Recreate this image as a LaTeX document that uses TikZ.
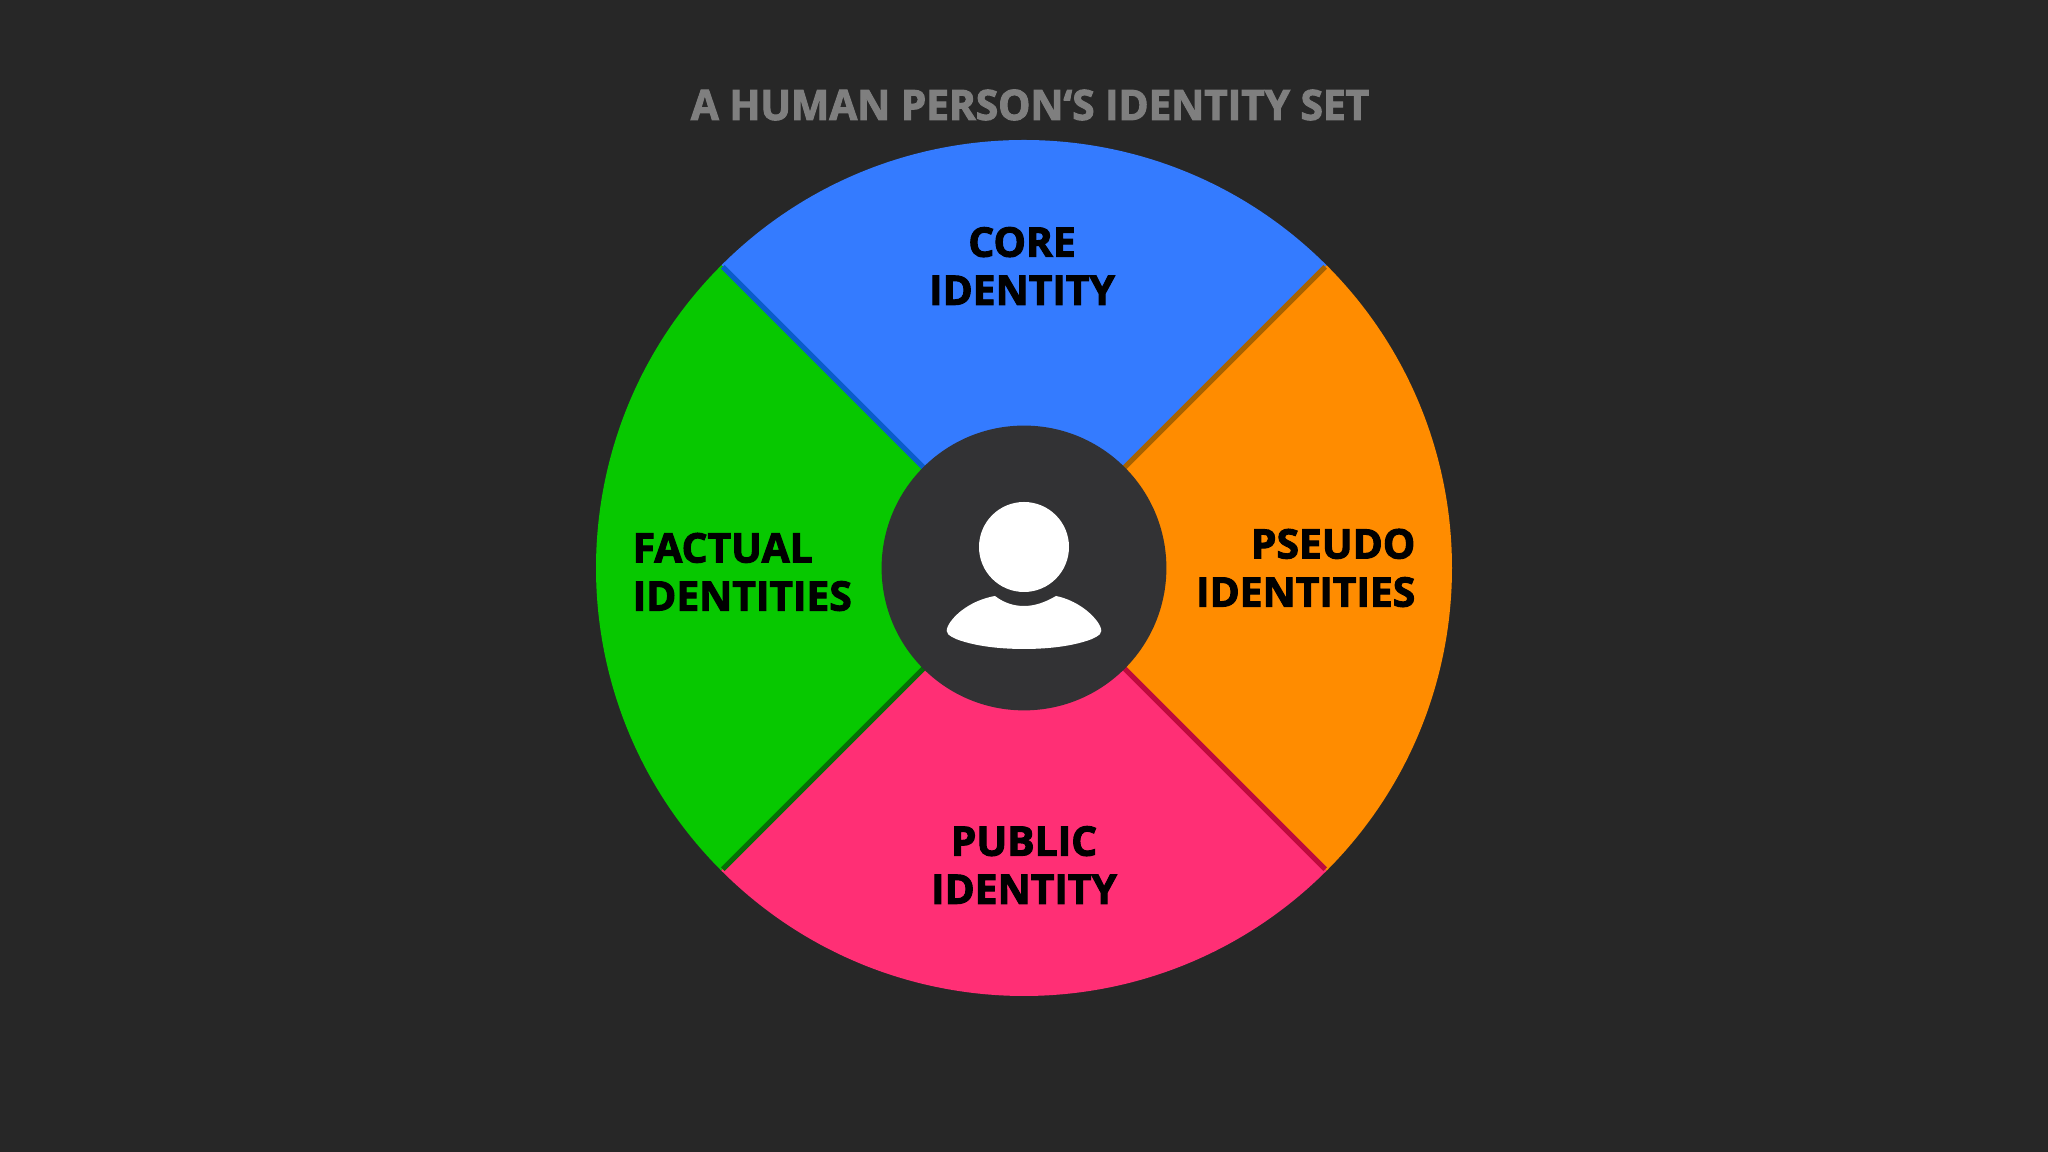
\documentclass[tikz,border=0pt]{standalone}
\usepackage{fontspec}
\setmainfont{Open Sans}[BoldFeatures={FakeBold=2.4}]
\newfontfamily\titlefont{Open Sans}[BoldFeatures={FakeBold=2.4,FakeStretch=0.97}]
\usepackage{xcolor}
\definecolor{bgdark}{HTML}{272727}
\definecolor{hubdark}{HTML}{323234}
\definecolor{titlegray}{HTML}{7F7F7F}
\definecolor{coreblue}{HTML}{347BFF}
\definecolor{coreedge}{HTML}{0B5CCB}
\definecolor{pseudoorange}{HTML}{FF8C00}
\definecolor{pseudoedge}{HTML}{A86200}
\definecolor{publicpink}{HTML}{FF2F75}
\definecolor{publicedge}{HTML}{BE0A3C}
\definecolor{factualgreen}{HTML}{07C800}
\definecolor{factualedge}{HTML}{066F06}
\tikzset{
 setlabel/.style={font=\fontsize{11.6}{13.7}\selectfont\bfseries, text=black, inner sep=0pt},
}

\begin{document}
\begin{tikzpicture}
\fill [bgdark] (0,0) rectangle (20.48,11.52);
\useasboundingbox (0,0) rectangle (20.48,11.52);

\node (title) at (10.30,10.47) [font=\titlefont\fontsize{11.9}{14}\selectfont\bfseries, text=titlegray, inner sep=0pt] {A HUMAN PERSON‘S IDENTITY SET};

\begin{scope}[shift={(10.24,5.84)}]
\foreach \ang/\col in {45/coreblue,135/factualgreen,225/publicpink,-45/pseudoorange}{
 \fill[\col] (0,0) -- (\ang:4.28) arc (\ang:\ang+90:4.28) -- cycle;
 }
\foreach \ang/\edge in {45/pseudoedge,135/coreedge,225/factualedge,-45/publicedge}{
 \draw[\edge, line width=1.5pt] (0,0) -- (\ang:4.26);
 }
\fill[hubdark] (0,0) circle (1.424);

% person
\fill[white] (0,0.21) circle (0.45);
\fill[white] (-0.29,-0.28) .. controls (-0.20,-0.35) and (-0.10,-0.38) .. (0,-0.38)
 .. controls (0.10,-0.38) and (0.20,-0.35) .. (0.32,-0.28)
 .. controls (0.52,-0.32) and (0.70,-0.46) .. (0.76,-0.58)
 .. controls (0.80,-0.66) and (0.74,-0.68) .. (0.68,-0.71)
 .. controls (0.50,-0.78) and (0.25,-0.81) .. (0,-0.81)
 .. controls (-0.25,-0.81) and (-0.50,-0.78) .. (-0.68,-0.71)
 .. controls (-0.74,-0.68) and (-0.80,-0.66) .. (-0.76,-0.58)
 .. controls (-0.70,-0.46) and (-0.52,-0.32) .. (-0.29,-0.28) -- cycle;
\end{scope}

\node (core) at (10.22,8.86) [setlabel, align=center] {CORE\\IDENTITY};
\node (factual) at (6.32,5.80) [setlabel, align=left, anchor=west] {FACTUAL\\IDENTITIES};
\node (pseudo) at (14.16,5.84) [setlabel, align=right, anchor=east] {PSEUDO\\IDENTITIES};
\node (public) at (10.24,2.87) [setlabel, align=center] {PUBLIC\\IDENTITY};
\end{tikzpicture}
\end{document}
